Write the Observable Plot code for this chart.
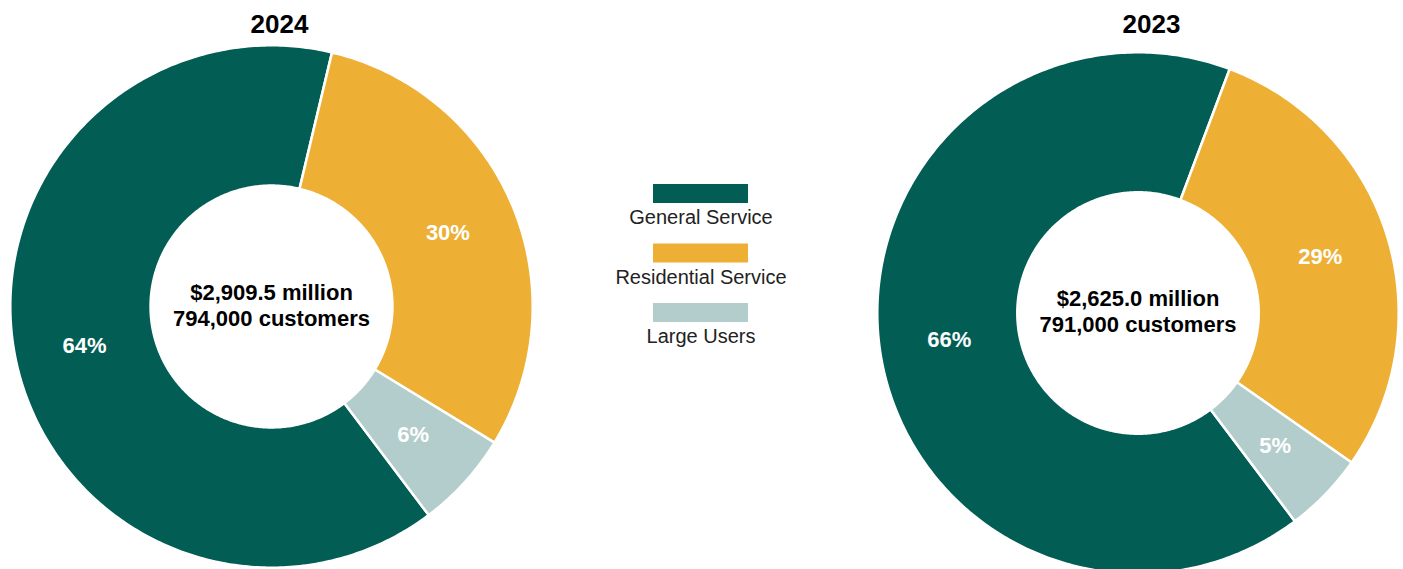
<!DOCTYPE html>
<html><head><meta charset="utf-8">
<script src="https://cdn.jsdelivr.net/npm/d3@7"></script>
<script src="https://cdn.jsdelivr.net/npm/@observablehq/plot@0.6"></script>
<style>html,body{margin:0;padding:0;background:#fff;overflow:hidden;}</style>
</head><body><div id="chart"></div>
<script>
// ---- data ----
const categories = ["General Service", "Residential Service", "Large Users"];
const colors = ["#025E54", "#EDAF34", "#B2CDCB"];
const years = ["2024", "2023"];
const shares2024 = [64, 30, 6];
const shares2023 = [66, 29, 5];
const revenueLabels = ["$2,909.5 million", "$2,625.0 million"];
const customerLabels = ["794,000 customers", "791,000 customers"];

// ---- layout ----
const W = 1403, H = 569;
const FONT = "Liberation Sans, Arial, Helvetica, sans-serif";
const donuts = [{cx: 271, cy: 306, r: 261.2, titleX: 279}, {cx: 1137.5, cy: 312.5, r: 260.7, titleX: 1151}];
const innerRatio = 0.463;
const startDeg = 143;
const sharesByYear = [shares2024, shares2023];

const slicePts = [], pctLabels = [], centerLines = [];
years.forEach((yr, i) => {
  const d = donuts[i];
  const ri = d.r * innerRatio;
  const arcs = d3.pie().sort(null)
    .startAngle(startDeg * Math.PI / 180)
    .endAngle((startDeg + 360) * Math.PI / 180)(sharesByYear[i]);
  arcs.forEach((a, j) => {
    const key = yr + "-" + categories[j];
    const n = Math.max(8, Math.ceil((a.endAngle - a.startAngle) * 80));
    const pt = (r, t) => ({key, cat: categories[j], x: d.cx + r * Math.sin(t), y: d.cy - r * Math.cos(t)});
    for (let k = 0; k <= n; k++) slicePts.push(pt(d.r, a.startAngle + (a.endAngle - a.startAngle) * k / n));
    for (let k = n; k >= 0; k--) slicePts.push(pt(ri, a.startAngle + (a.endAngle - a.startAngle) * k / n));
    slicePts.push(pt(d.r, a.startAngle));
    const m = (a.startAngle + a.endAngle) / 2, rm = (d.r + ri) / 2;
    pctLabels.push({x: d.cx + rm * Math.sin(m), y: d.cy - rm * Math.cos(m), text: sharesByYear[i][j] + "%"});
  });
  centerLines.push({x: d.cx, y: d.cy - 14, text: revenueLabels[i]});
  centerLines.push({x: d.cx, y: d.cy + 12, text: customerLabels[i]});
});

const legendRows = categories.map((c, i) => ({cat: c, i}));
const LEG = {x1: 653, x2: 748, top: 184, h: 19, step: 59.5, labelDy: 33.5};

const chart = Plot.plot({
  width: W, height: H, margin: 0,
  x: {domain: [0, W], range: [0, W], axis: null},
  y: {domain: [0, H], range: [0, H], axis: null},
  color: {domain: categories, range: colors},
  style: {fontFamily: FONT, background: "white"},
  marks: [
    Plot.line(slicePts, {x: "x", y: "y", z: "key", fill: "cat", stroke: "white", strokeWidth: 2.5, strokeLinejoin: "round", curve: "linear"}),
    Plot.text(pctLabels, {x: "x", y: "y", text: "text", fill: "white", fontWeight: "bold", fontSize: 22, fontFamily: FONT}),
    Plot.text(centerLines, {x: "x", y: "y", text: "text", fill: "black", fontWeight: "bold", fontSize: 22, fontFamily: FONT}),
    Plot.text(years, {x: (d, i) => donuts[i].titleX, y: () => 24, text: d => d, fill: "black", fontWeight: "bold", fontSize: 26, fontFamily: FONT}),
    Plot.rect(legendRows, {x1: () => LEG.x1, x2: () => LEG.x2, y1: d => LEG.top + d.i * LEG.step, y2: d => LEG.top + LEG.h + d.i * LEG.step, fill: "cat"}),
    Plot.text(legendRows, {x: () => (LEG.x1 + LEG.x2) / 2, y: d => LEG.top + LEG.labelDy + d.i * LEG.step, text: "cat", fill: "#222", fontSize: 20, fontFamily: FONT})
  ]
});
document.getElementById("chart").append(chart);
</script>
</body></html>
